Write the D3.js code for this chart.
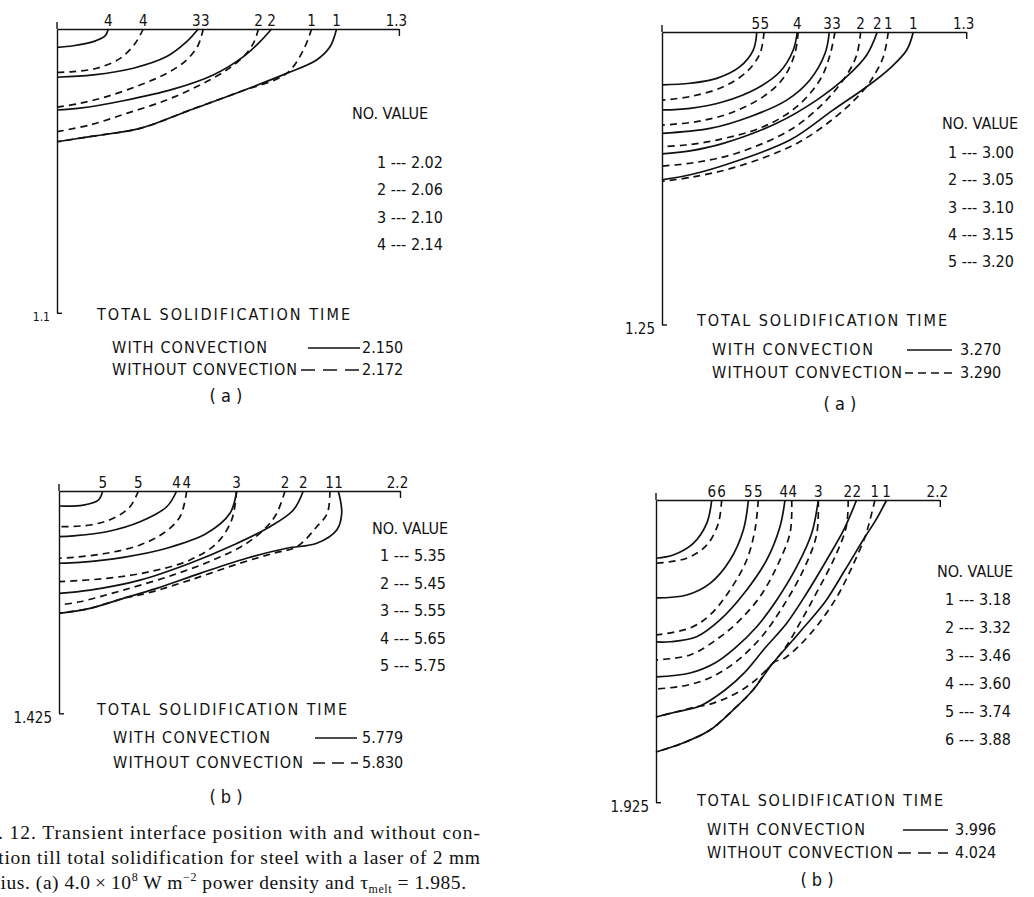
<!DOCTYPE html>
<html>
<head>
<meta charset="utf-8">
<script src="https://cdn.jsdelivr.net/npm/d3@7"></script>
<style>
  body { margin: 0; background: #fff; }
  svg { display: block; }
  text { font-family: "DejaVu Sans Condensed", "Liberation Sans Narrow", "DejaVu Sans", sans-serif; fill: #111; }
  .caption { font-family: "Liberation Serif", "DejaVu Serif", serif; }
</style>
</head>
<body>
<div id="chart"></div>
<script>
// ---- data: interface curves as [x, depth] pairs, index 0 = contour no. 1 ----

// top left, (a)
const aMax = [1.3, 1.1];
const aValues = ["2.02", "2.06", "2.10", "2.14"];
const aTimes = ["2.150", "2.172"];
const aSolid = [
  [[1.063,0],[1.038,0.069],[0.987,0.120],[0.873,0.172],[0.696,0.243],[0.506,0.314],[0.316,0.385],[0.125,0.417],[0,0.437]],
  [[0.816,0],[0.772,0.049],[0.709,0.107],[0.594,0.178],[0.442,0.233],[0.252,0.278],[0.087,0.307],[0,0.314]],
  [[0.537,0],[0.493,0.049],[0.417,0.107],[0.290,0.152],[0.138,0.178],[0,0.187]],
  [[0.195,0],[0.183,0.027],[0.138,0.049],[0.062,0.065],[0,0.071]]
];
const aDashed = [
  [[0.968,0],[0.937,0.081],[0.873,0.172],[0.696,0.243],[0.506,0.314],[0.316,0.385],[0.125,0.417],[0,0.437]],
  [[0.766,0],[0.747,0.055],[0.709,0.107],[0.645,0.159],[0.544,0.217],[0.417,0.275],[0.265,0.327],[0.125,0.372],[0,0.398]],
  [[0.556,0],[0.537,0.062],[0.493,0.120],[0.417,0.172],[0.316,0.217],[0.189,0.262],[0.087,0.288],[0,0.303]],
  [[0.328,0],[0.297,0.056],[0.240,0.114],[0.151,0.152],[0.062,0.165],[0,0.168]]
];

// top right, (a)
const bMax = [1.3, 1.25];
const bValues = ["3.00", "3.05", "3.10", "3.15", "3.20"];
const bTimes = ["3.270", "3.290"];
const bSolid = [
  [[1.074,0],[1.046,0.077],[0.974,0.155],[0.875,0.234],[0.732,0.333],[0.547,0.462],[0.291,0.561],[0.13,0.608],[0,0.632]],
  [[0.920,0],[0.875,0.098],[0.789,0.191],[0.661,0.291],[0.490,0.390],[0.262,0.476],[0.12,0.508],[0,0.521]],
  [[0.715,0],[0.697,0.091],[0.632,0.205],[0.533,0.291],[0.376,0.362],[0.205,0.412],[0,0.433]],
  [[0.578,0],[0.561,0.077],[0.504,0.170],[0.405,0.241],[0.262,0.298],[0.120,0.326],[0,0.333]],
  [[0.405,0],[0.390,0.077],[0.333,0.148],[0.234,0.198],[0.120,0.219],[0,0.226]]
];
const bDashed = [
  [[0.967,0],[0.946,0.106],[0.903,0.191],[0.868,0.241],[0.761,0.347],[0.576,0.476],[0.319,0.576],[0.13,0.62],[0,0.638]],
  [[0.849,0],[0.832,0.098],[0.789,0.184],[0.689,0.305],[0.547,0.419],[0.319,0.518],[0.14,0.558],[0,0.573]],
  [[0.739,0],[0.718,0.098],[0.675,0.205],[0.576,0.319],[0.433,0.405],[0.234,0.462],[0.1,0.483],[0,0.490]],
  [[0.582,0],[0.568,0.091],[0.518,0.198],[0.433,0.276],[0.291,0.347],[0.148,0.383],[0,0.398]],
  [[0.436,0],[0.419,0.091],[0.362,0.170],[0.262,0.234],[0.120,0.276],[0,0.291]]
];

// bottom left, (b)
const cMax = [2.2, 1.425];
const cValues = ["5.35", "5.45", "5.55", "5.65", "5.75"];
const cTimes = ["5.779", "5.830"];
const cSolid = [
  [[1.802,0],[1.824,0.143],[1.792,0.25],[1.663,0.335],[1.469,0.367],[1.211,0.431],[0.910,0.528],[0.630,0.624],[0.415,0.688],[0.2,0.752],[0,0.784]],
  [[1.576,0],[1.512,0.122],[1.361,0.229],[1.125,0.346],[0.845,0.463],[0.523,0.571],[0.2,0.635],[0,0.656]],
  [[1.146,0],[1.103,0.143],[0.953,0.271],[0.695,0.367],[0.415,0.425],[0.135,0.457],[0,0.463]],
  [[0.759,0],[0.695,0.101],[0.523,0.197],[0.308,0.261],[0.092,0.288],[0,0.293]],
  [[0.282,0],[0.254,0.058],[0.157,0.090],[0,0.096]]
];
const cDashed = [
  [[1.748,0],[1.731,0.143],[1.663,0.229],[1.534,0.357],[1.383,0.399],[1.168,0.463],[0.845,0.571],[0.566,0.656],[0.415,0.688],[0.2,0.752],[0,0.784]],
  [[1.458,0],[1.405,0.143],[1.340,0.229],[1.211,0.335],[0.995,0.442],[0.737,0.538],[0.415,0.635],[0.135,0.710],[0,0.731]],
  [[1.146,0],[1.114,0.186],[1.017,0.335],[0.845,0.442],[0.587,0.517],[0.308,0.560],[0,0.581]],
  [[0.824,0],[0.781,0.165],[0.673,0.271],[0.523,0.346],[0.308,0.399],[0.092,0.425],[0,0.431]],
  [[0.512,0],[0.458,0.101],[0.350,0.175],[0.2,0.218],[0,0.229]]
];

// bottom right, (b)
const dMax = [2.2, 1.925];
const dValues = ["3.18", "3.32", "3.46", "3.60", "3.74", "3.88"];
const dTimes = ["3.996", "4.024"];
const dSolid = [
  [[1.788,0],[1.705,0.127],[1.620,0.236],[1.465,0.446],[1.310,0.650],[1.155,0.803],[1.062,0.892],[0.907,1.038],[0.752,1.210],[0.597,1.338],[0.419,1.465],[0.209,1.548],[0,1.605]],
  [[1.555,0],[1.455,0.191],[1.323,0.382],[1.168,0.594],[1.013,0.785],[0.845,0.943],[0.690,1.096],[0.535,1.210],[0.341,1.312],[0.155,1.350],[0,1.382]],
  [[1.258,0],[1.207,0.212],[1.091,0.425],[0.936,0.637],[0.781,0.807],[0.612,0.943],[0.457,1.038],[0.264,1.102],[0,1.127]],
  [[1.0,0],[0.961,0.170],[0.858,0.382],[0.703,0.573],[0.496,0.764],[0.315,0.871],[0.109,0.903],[0,0.904]],
  [[0.716,0],[0.677,0.191],[0.574,0.382],[0.419,0.531],[0.238,0.605],[0,0.624]],
  [[0.432,0],[0.393,0.149],[0.289,0.276],[0.134,0.350],[0,0.371]]
];
const dDashed = [
  [[1.697,0],[1.659,0.127],[1.620,0.236],[1.527,0.414],[1.411,0.605],[1.271,0.777],[1.116,0.924],[0.999,1.006],[0.907,1.038],[0.752,1.210],[0.597,1.338],[0.419,1.465],[0.209,1.548],[0,1.605]],
  [[1.49,0],[1.475,0.170],[1.388,0.361],[1.256,0.573],[1.116,0.783],[1.0,0.943],[0.87,1.07],[0.72,1.18],[0.548,1.261],[0.393,1.306],[0.341,1.312],[0.155,1.350],[0,1.382]],
  [[1.258,0],[1.245,0.22],[1.14,0.45],[0.99,0.67],[0.83,0.86],[0.65,1.01],[0.45,1.12],[0.24,1.18],[0,1.204]],
  [[1.052,0],[1.039,0.210],[0.936,0.425],[0.806,0.616],[0.651,0.764],[0.496,0.873],[0.264,0.987],[0,1.019]],
  [[0.793,0],[0.767,0.191],[0.703,0.382],[0.574,0.573],[0.419,0.732],[0.264,0.815],[0,0.860]],
  [[0.509,0],[0.483,0.149],[0.393,0.287],[0.238,0.371],[0,0.403]]
];

const captionLines = [
  "Fig. 12. Transient interface position with and without con-",
  "vection till total solidification for steel with a laser of 2 mm"
];

// ---- layout (pixels) ----
const W = 1034, H = 897;
const panels = [
  { max: aMax, values: aValues, times: aTimes, solid: aSolid, dashed: aDashed, tag: "(a)",
    x0: 57, y0: 29, kx: 263, ky: 258, endSize: 12,
    nv: [352, 119], rows: [377, 168, 27.3], total: [97, 320, 253],
    withT: [112, 353, 155], withoutT: [112, 375, 185], lineX: [308, 360], dashX: [301, 360], dash: "14,8",
    valX: 362, tagPos: [226, 402] },
  { max: bMax, values: bValues, times: bTimes, solid: bSolid, dashed: bDashed, tag: "(a)",
    x0: 662, y0: 32, kx: 234, ky: 234, endSize: 15,
    nv: [942, 129], rows: [948, 158, 27.3], total: [697, 326, 250],
    withT: [712, 355, 161], withoutT: [712, 378, 190], lineX: [907, 952], dashX: [905, 952], dash: "8,5",
    valX: 960, tagPos: [840, 410] },
  { max: cMax, values: cValues, times: cTimes, solid: cSolid, dashed: cDashed, tag: "(b)",
    x0: 59, y0: 491, kx: 155, ky: 156, endSize: 15,
    nv: [372, 534], rows: [380, 561, 27.5], total: [97, 715, 250],
    withT: [113, 743, 157], withoutT: [113, 768, 190], lineX: [315, 357], dashX: [313, 358], dash: "12,7",
    valX: 362, tagPos: [226, 803] },
  { max: dMax, values: dValues, times: dTimes, solid: dSolid, dashed: dDashed, tag: "(b)",
    x0: 656, y0: 500, kx: 129, ky: 157, endSize: 15,
    nv: [937, 577], rows: [945, 605, 28], total: [697, 806, 246],
    withT: [707, 835, 158], withoutT: [707, 858, 186], lineX: [903, 948], dashX: [898, 948], dash: "13,7",
    valX: 955, tagPos: [817, 886] }
];

const svg = d3.select("#chart").append("svg")
  .attr("width", W)
  .attr("height", H);

svg.append("rect").attr("width", W).attr("height", H).attr("fill", "#fff");

function drawPanel(p) {
  const [xMax, yMax] = p.max;
  const x = d3.scaleLinear().domain([0, xMax]).range([p.x0, p.x0 + xMax * p.kx]);
  const y = d3.scaleLinear().domain([0, yMax]).range([p.y0, p.y0 + yMax * p.ky]);
  const g = svg.append("g");

  // top axis, tick only at the far end
  const top = g.append("g")
    .attr("transform", `translate(0,${p.y0})`)
    .call(d3.axisTop(x).tickValues([xMax]).tickSizeInner(-7).tickSizeOuter(0).tickPadding(3).tickFormat(d => String(d)));
  // left axis, small tick at the bottom
  const left = g.append("g")
    .attr("transform", `translate(${p.x0},0)`)
    .call(d3.axisLeft(y).tickValues([yMax]).tickSizeInner(-5).tickSizeOuter(0).tickPadding(7).tickFormat(d => String(d)));
  [top, left].forEach(a => {
    a.attr("font-family", null).attr("font-size", null);
    a.selectAll("path, line").attr("stroke", "#111").attr("stroke-width", 1.4);
  });
  top.selectAll("text").attr("font-size", 15).attr("dx", -3);
  left.selectAll("text").attr("font-size", p.endSize).attr("dy", "0.6em");
  g.append("line")
    .attr("x1", x(0)).attr("x2", x(0))
    .attr("y1", y(0) - 7).attr("y2", y(0))
    .attr("stroke", "#111").attr("stroke-width", 1.4);

  // curves
  const line = d3.line()
    .x(d => x(d[0]))
    .y(d => y(d[1]))
    .curve(d3.curveCatmullRom.alpha(0.5));

  g.selectAll(".solid")
    .data(p.solid)
    .enter()
    .append("path")
    .attr("class", "solid")
    .attr("d", line)
    .attr("fill", "none")
    .attr("stroke", "#111")
    .attr("stroke-width", 1.7);

  g.selectAll(".dashed")
    .data(p.dashed)
    .enter()
    .append("path")
    .attr("class", "dashed")
    .attr("d", line)
    .attr("fill", "none")
    .attr("stroke", "#111")
    .attr("stroke-width", 1.7)
    .attr("stroke-dasharray", "7,5");

  // contour numbers along the top, one per distinct end point
  let tops = [];
  p.solid.forEach((c, i) => tops.push({ id: i + 1, px: x(c[0][0]) }));
  p.dashed.forEach((c, i) => {
    const px = x(c[0][0]);
    if (!tops.some(t => t.id === i + 1 && Math.abs(t.px - px) < 2.5)) tops.push({ id: i + 1, px: px });
  });
  tops.sort((a, b) => a.px - b.px);
  for (let i = 1; i < tops.length; i++) {
    const gap = tops[i].px - tops[i - 1].px;
    if (gap < 9) {
      tops[i - 1].px -= (9 - gap) / 2;
      tops[i].px += (9 - gap) / 2;
    }
  }
  g.selectAll(".num")
    .data(tops)
    .enter()
    .append("text")
    .attr("class", "num")
    .attr("x", d => d.px)
    .attr("y", p.y0 - 3)
    .attr("text-anchor", "middle")
    .attr("font-size", 15)
    .text(d => d.id);

  // NO. VALUE table
  g.append("text")
    .attr("x", p.nv[0]).attr("y", p.nv[1])
    .attr("font-size", 16)
    .text("NO. VALUE");
  g.selectAll(".row")
    .data(p.values)
    .enter()
    .append("text")
    .attr("class", "row")
    .attr("x", p.rows[0])
    .attr("y", (d, i) => p.rows[1] + i * p.rows[2])
    .attr("font-size", 16)
    .text((d, i) => `${i + 1} --- ${d}`);

  // total solidification time block
  g.append("text")
    .attr("x", p.total[0]).attr("y", p.total[1])
    .attr("font-size", 16)
    .attr("textLength", p.total[2])
    .text("TOTAL SOLIDIFICATION  TIME");
  g.append("text")
    .attr("x", p.withT[0]).attr("y", p.withT[1])
    .attr("font-size", 16)
    .attr("textLength", p.withT[2])
    .text("WITH CONVECTION");
  g.append("text")
    .attr("x", p.withoutT[0]).attr("y", p.withoutT[1])
    .attr("font-size", 16)
    .attr("textLength", p.withoutT[2])
    .text("WITHOUT CONVECTION");
  g.append("line")
    .attr("x1", p.lineX[0]).attr("x2", p.lineX[1])
    .attr("y1", p.withT[1] - 5).attr("y2", p.withT[1] - 5)
    .attr("stroke", "#111").attr("stroke-width", 1.5);
  g.append("line")
    .attr("x1", p.dashX[0]).attr("x2", p.dashX[1])
    .attr("y1", p.withoutT[1] - 5).attr("y2", p.withoutT[1] - 5)
    .attr("stroke", "#111").attr("stroke-width", 1.5)
    .attr("stroke-dasharray", p.dash);
  g.append("text")
    .attr("x", p.valX).attr("y", p.withT[1])
    .attr("font-size", 16)
    .text(p.times[0]);
  g.append("text")
    .attr("x", p.valX).attr("y", p.withoutT[1])
    .attr("font-size", 16)
    .text(p.times[1]);

  g.append("text")
    .attr("x", p.tagPos[0]).attr("y", p.tagPos[1])
    .attr("text-anchor", "middle")
    .attr("font-size", 18)
    .text(p.tag.split("").join(" "));
}

panels.forEach(drawPanel);

// caption, cut at the left edge as in the scan
const cap = svg.append("g").attr("class", "caption");
cap.selectAll(".capline")
  .data(captionLines)
  .enter()
  .append("text")
  .attr("class", "caption")
  .attr("x", -31)
  .attr("y", (d, i) => 839 + i * 25)
  .attr("font-size", 19.5)
  .attr("textLength", 511)
  .text(d => d);

const last = cap.append("text")
  .attr("class", "caption")
  .attr("x", -26)
  .attr("y", 889)
  .attr("font-size", 19.5)
  .attr("textLength", 492);
last.append("tspan").text("radius. (a) 4.0\u2009\u00d7\u200910");
last.append("tspan").attr("dy", -8).attr("font-size", 12).text("8");
last.append("tspan").attr("dy", 8).text(" W m");
last.append("tspan").attr("dy", -8).attr("font-size", 12).text("\u22122");
last.append("tspan").attr("dy", 8).text(" power density and \u03c4");
last.append("tspan").attr("dy", 4).attr("font-size", 12).text("melt");
last.append("tspan").attr("dy", -4).text(" = 1.985.");
</script>
</body>
</html>
